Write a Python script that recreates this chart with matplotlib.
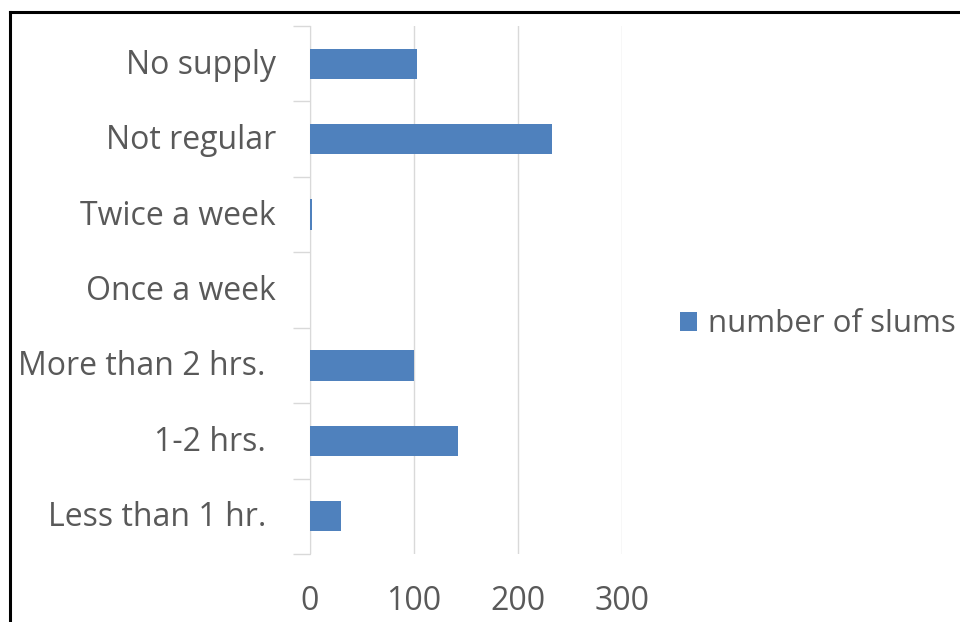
import numpy as np
import matplotlib.pyplot as plt
import matplotlib.transforms as mtransforms
from matplotlib.lines import Line2D

# water supply frequency in slums
categories = ["Less than 1 hr.", "1-2 hrs.", "More than 2 hrs.", "Once a week",
              "Twice a week", "Not regular", "No supply"]
slums = [30, 142, 100, 0, 2, 233, 103]
xticks = [0, 100, 200, 300]

plt.rcParams['font.family'] = ['Open Sans', 'DejaVu Sans']
txt = "#595959"

fig = plt.figure(figsize=(9.6, 6.22), dpi=100)
ax = fig.add_axes([310/960, 1-554/622, 312/960, 528/622])

y = np.arange(len(categories))
ax.barh(y, slums, height=0.4, color="#4f81bd", edgecolor="none",
        label="number of slums", zorder=3)

ax.set_xlim(0, 300)
ax.set_ylim(-0.5, len(categories) - 0.5)
ax.set_xticks(xticks)
ax.set_xticklabels([str(v) for v in xticks], fontsize=23, color=txt)
ax.set_yticks(y)
ax.set_yticklabels([])
ax.set_yticks(np.arange(len(categories) + 1) - 0.5, minor=True)
ax.tick_params(axis="y", which="major", length=0)
ax.tick_params(axis="y", which="minor", length=12, color="#d9d9d9", width=1)
ax.tick_params(axis="x", length=0, pad=22)
ax.grid(axis="x", color="#d9d9d9", linewidth=1, zorder=0)
for s in ["top", "right", "bottom"]:
    ax.spines[s].set_visible(False)
ax.spines["left"].set_color("#d9d9d9")

# category labels, right aligned (the three "hrs" labels sit a bit further left)
trans = mtransforms.blended_transform_factory(fig.transFigure, ax.transData)
for i, lab in enumerate(categories):
    xr = 266/960 if i < 3 else 276/960
    ax.text(xr, i - 0.02, lab, transform=trans, ha="right", va="center", fontsize=23, color=txt)

ax.legend(loc="center left", bbox_to_anchor=((667 - 310)/312, 0.435), frameon=False,
          fontsize=22.5, labelcolor=txt, handlelength=0.55, handleheight=0.55,
          handletextpad=0.35, borderaxespad=0)

# outer frame
fig.add_artist(Line2D([10/960, 10/960], [0, 1-12/622], color="black", linewidth=2.2,
                      transform=fig.transFigure))
fig.add_artist(Line2D([10/960, 1], [1-12/622, 1-12/622], color="black", linewidth=2.2,
                      transform=fig.transFigure))

fig.savefig("out.png", dpi=100)
